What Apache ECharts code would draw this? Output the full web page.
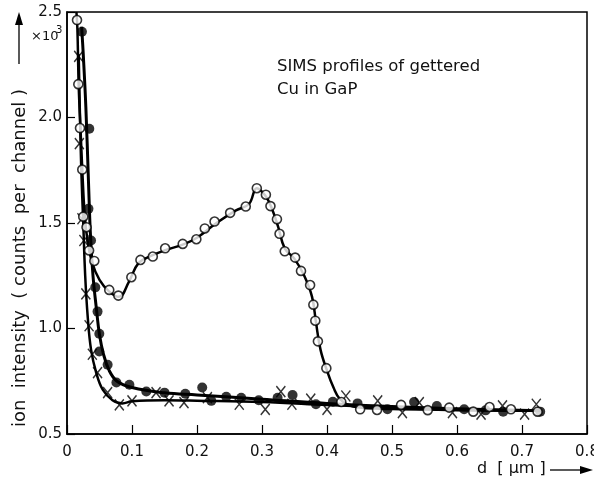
<!DOCTYPE html>
<html>
<head>
<meta charset="utf-8">
<script src="https://cdn.jsdelivr.net/npm/echarts@6/dist/echarts.min.js"></script>
<style>html,body{margin:0;padding:0;background:#fff;overflow:hidden;}#c{width:594px;height:488px;}</style>
</head>
<body>
<div id="c"></div>
<script>
// ---- data (x in µm, y in 10^3 counts per channel) ----
var openPts = [[0.0154,2.462],[0.0174,2.158],[0.020,1.950],[0.0235,1.753],[0.025,1.53],[0.030,1.48],[0.034,1.37],[0.042,1.32],[0.065,1.183],[0.079,1.156],[0.099,1.243],[0.113,1.325],[0.132,1.341],[0.151,1.380],[0.178,1.401],[0.199,1.423],[0.212,1.474],[0.227,1.507],[0.251,1.548],[0.275,1.578],[0.292,1.665],[0.306,1.634],[0.313,1.580],[0.323,1.518],[0.327,1.449],[0.335,1.366],[0.351,1.336],[0.360,1.273],[0.374,1.206],[0.379,1.113],[0.382,1.037],[0.386,0.939],[0.399,0.812],[0.422,0.652],[0.451,0.617],[0.477,0.614],[0.514,0.638],[0.555,0.613],[0.588,0.625],[0.625,0.606],[0.650,0.628],[0.683,0.617],[0.724,0.606]];
var filledPts = [[0.023,2.406],[0.0343,1.947],[0.033,1.567],[0.037,1.417],[0.0435,1.195],[0.047,1.08],[0.0497,0.975],[0.0497,0.891],[0.0625,0.828],[0.076,0.744],[0.096,0.733],[0.122,0.701],[0.150,0.696],[0.182,0.691],[0.208,0.720],[0.222,0.657],[0.245,0.676],[0.268,0.672],[0.295,0.660],[0.324,0.672],[0.347,0.685],[0.383,0.641],[0.409,0.653],[0.447,0.645],[0.493,0.617],[0.534,0.652],[0.569,0.633],[0.611,0.617],[0.644,0.612],[0.671,0.606],[0.728,0.606]];
var crossPts = [[0.018,2.29],[0.019,1.876],[0.023,1.52],[0.026,1.417],[0.029,1.164],[0.034,1.013],[0.039,0.878],[0.047,0.791],[0.0625,0.696],[0.0805,0.638],[0.100,0.657],[0.137,0.696],[0.157,0.657],[0.180,0.649],[0.216,0.672],[0.265,0.641],[0.305,0.617],[0.329,0.701],[0.346,0.641],[0.375,0.665],[0.400,0.617],[0.429,0.680],[0.478,0.657],[0.516,0.601],[0.542,0.649],[0.593,0.601],[0.637,0.594],[0.670,0.633],[0.704,0.594],[0.722,0.641]];
// hand-drawn guide curves
var openCurve = [[0.0145,2.50],[0.016,2.42],[0.018,2.15],[0.021,1.93],[0.024,1.72],[0.027,1.55],[0.031,1.43],[0.038,1.32],[0.05,1.23],[0.065,1.175],[0.08,1.15],[0.095,1.22],[0.11,1.31],[0.13,1.345],[0.15,1.37],[0.18,1.40],[0.20,1.43],[0.23,1.50],[0.26,1.56],[0.28,1.59],[0.292,1.665],[0.305,1.63],[0.315,1.57],[0.325,1.48],[0.335,1.38],[0.35,1.33],[0.365,1.25],[0.377,1.15],[0.383,1.03],[0.39,0.90],[0.40,0.80],[0.41,0.72],[0.42,0.665],[0.44,0.63],[0.5,0.618],[0.6,0.615],[0.73,0.61]];
var filledCurve = [[0.0225,2.43],[0.025,2.30],[0.029,2.05],[0.033,1.70],[0.036,1.45],[0.040,1.25],[0.045,1.10],[0.050,0.97],[0.056,0.88],[0.065,0.80],[0.077,0.75],[0.10,0.72],[0.15,0.695],[0.20,0.685],[0.30,0.665],[0.40,0.645],[0.50,0.63],[0.60,0.62],[0.73,0.61]];
var crossCurve = [[0.018,2.30],[0.020,2.00],[0.022,1.75],[0.025,1.50],[0.028,1.25],[0.032,1.05],[0.037,0.90],[0.045,0.79],[0.055,0.71],[0.07,0.66],[0.085,0.645],[0.10,0.655],[0.15,0.66],[0.20,0.658],[0.30,0.652],[0.40,0.638],[0.50,0.625],[0.60,0.612],[0.72,0.61]];
var xTicks = [0,0.1,0.2,0.3,0.4,0.5,0.6,0.7,0.8];
var yTicks = [0.5,1.0,1.5,2.0,2.5];

var chart = echarts.init(document.getElementById('c'));
var FF = '"DejaVu Sans", "Liberation Sans", sans-serif';
var lbl = {color:'#111', fontSize:15, fontFamily:FF};
var crossPath = 'path://M0,0L9,11M9,0L0,11';
chart.setOption({
  animation:false,
  backgroundColor:'#fff',
  grid:{left:67, right:7, top:12, bottom:54, containLabel:false, outerBoundsMode:'none', show:true, borderColor:'#000', borderWidth:1.5, backgroundColor:'transparent'},
  xAxis:{type:'value', min:xTicks[0], max:xTicks[xTicks.length-1], interval:0.1,
    axisLine:{lineStyle:{color:'#000', width:1.5}},
    axisTick:{inside:true, length:9, lineStyle:{color:'#000', width:1.2}},
    splitLine:{show:false},
    axisLabel:Object.assign({margin:11, formatter:function(v){return v===0?'0':v.toFixed(1);}}, lbl)},
  yAxis:{type:'value', min:yTicks[0], max:yTicks[yTicks.length-1], interval:0.5,
    axisLine:{lineStyle:{color:'#000', width:1.5}},
    axisTick:{inside:true, length:8, lineStyle:{color:'#000', width:1.2}},
    splitLine:{show:false},
    axisLabel:Object.assign({margin:5, formatter:function(v){return v.toFixed(1);}}, lbl)},
  graphic:[
    {type:'text', left:277, top:55, style:{text:'SIMS profiles of gettered\nCu in GaP', fill:'#111', font:'16.5px ' + FF, lineHeight:23}},
    {type:'text', x:31, y:30, style:{text:'×10', fill:'#111', font:'13px ' + FF}},
    {type:'text', x:56, y:25, style:{text:'3', fill:'#111', font:'10px ' + FF}},
    {type:'text', x:20, y:258, rotation:Math.PI/2, style:{text:'ion  intensity  ( counts  per  channel )', fill:'#111', font:'18px ' + FF, textAlign:'center', textVerticalAlign:'middle'}},
    {type:'line', shape:{x1:19, y1:64, x2:19, y2:22}, style:{stroke:'#000', lineWidth:1.3}},
    {type:'polygon', shape:{points:[[19,12],[15,25],[23,25]]}, style:{fill:'#000'}},
    {type:'text', x:477, y:469, style:{text:'d  [ µm ]', fill:'#111', font:'16px ' + FF, textVerticalAlign:'middle'}},
    {type:'line', shape:{x1:550, y1:470, x2:582, y2:470}, style:{stroke:'#000', lineWidth:1.3}},
    {type:'polygon', shape:{points:[[593,470],[580,466],[580,474]]}, style:{fill:'#000'}}
  ],
  series:[
    {type:'line', data:crossCurve, smooth:0.4, showSymbol:false, lineStyle:{color:'#000', width:2.5}, z:2},
    {type:'line', data:filledCurve, smooth:0.4, showSymbol:false, lineStyle:{color:'#000', width:3}, z:2},
    {type:'line', data:openCurve, smooth:0.4, showSymbol:false, lineStyle:{color:'#000', width:2.5}, z:2},
    {type:'scatter', data:crossPts, symbol:crossPath, symbolSize:[9,11], itemStyle:{color:'#000', borderColor:'#000', borderWidth:1.5}, z:3},
    {type:'scatter', data:filledPts, symbol:'circle', symbolSize:10, itemStyle:{color:'#000'}, z:4},
    {type:'scatter', data:openPts, symbol:'circle', symbolSize:9, itemStyle:{color:'#fff', borderColor:'#000', borderWidth:1.6}, z:5}
  ]
});
</script>
</body>
</html>
